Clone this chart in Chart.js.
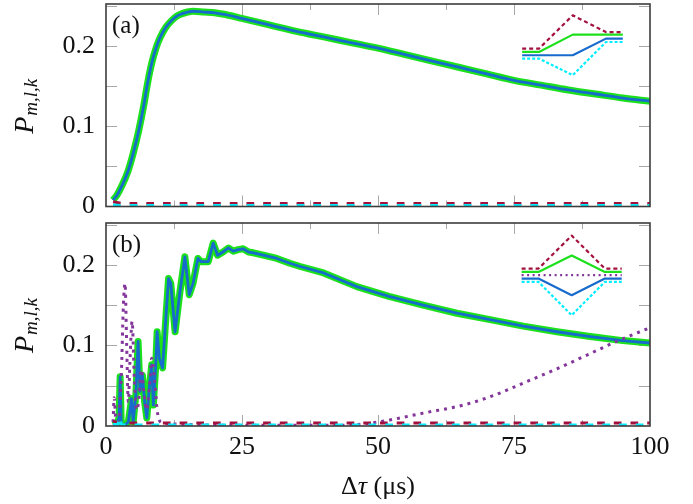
<!DOCTYPE html>
<html>
<head>
<meta charset="utf-8">
<script src="https://cdn.jsdelivr.net/npm/chart.js@4.4.1/dist/chart.umd.min.js"></script>
<style>
  html, body { margin: 0; padding: 0; background: #fff; }
  #wrap { position: relative; width: 693px; height: 504px; }
  canvas { position: absolute; left: 0; }
</style>
</head>
<body>
<div id="wrap">
  <canvas id="chartA" width="693" height="215" style="top:0"></canvas>
  <canvas id="chartB" width="693" height="289" style="top:215px"></canvas>
</div>
<script>
// --- axis ticks ---
const xMajorTicks = [0, 25, 50, 75, 100];
const xMinorTicks = [12.5, 37.5, 62.5, 87.5];
const yTicks = [0, 0.05, 0.1, 0.15, 0.2, 0.25];
const yLabelled = [0, 0.1, 0.2];
const yLabelText = ['0', '0.1', '0.2'];

// --- panel (a) ---
const tauA = [1.3, 2, 3, 4, 5, 6, 7, 7.5, 8, 8.5, 9, 9.5, 10, 11, 12, 13, 14, 15, 16, 18, 20, 22.5, 25, 30, 35, 40, 45, 50, 55, 60, 65, 70, 75, 80, 85, 90, 95, 100];
const pA = [0.008, 0.014, 0.027, 0.043, 0.066, 0.094, 0.128, 0.148, 0.166, 0.181, 0.193, 0.203, 0.211, 0.223, 0.231, 0.237, 0.240, 0.242, 0.243, 0.242, 0.241, 0.238, 0.234, 0.226, 0.218, 0.211, 0.204, 0.197, 0.189, 0.181, 0.173, 0.165, 0.157, 0.151, 0.145, 0.140, 0.135, 0.131];
const tauLowA = [1.3, 3, 100];
const redA = [0.006, 0.0037, 0.0037];
const cyanA = [0.002, 0.0012, 0.0012];

// inset (a)
const insRedTauA = [76.5, 79.6, 85.8, 91.9, 95.0];
const insRedA = [0.1965, 0.1965, 0.2379, 0.2171, 0.2171];
const insGreenTauA = [76.5, 79.6, 85.8, 95.0];
const insGreenA = [0.1923, 0.1923, 0.2139, 0.2139];
const insBlueTauA = [76.5, 85.8, 91.9, 95.0];
const insBlueA = [0.1882, 0.1882, 0.2089, 0.2089];
const insCyanTauA = [76.5, 79.6, 85.8, 91.9, 95.0];
const insCyanA = [0.1841, 0.1841, 0.1634, 0.2047, 0.2047];

// --- panel (b) ---
const tauB = [1.3, 2.0, 2.4, 2.6, 2.8, 3.2, 3.6, 4.1, 4.7, 5.0, 5.5, 5.9, 6.25, 6.7, 7.1, 7.5, 8.0, 8.4, 8.7, 9.1, 9.4, 9.8, 10.4, 11.0, 11.5, 11.9, 12.7, 13.6, 14.5, 15.3, 16.0, 16.9, 17.5, 18.8, 19.7, 20.5, 21.5, 22.5, 23.4, 24.3, 25.2, 26.2, 27.1, 28.9, 31.4, 33.8, 35.7, 40, 46.1, 52, 58.3, 64.5, 70.6, 76.7, 82.9, 89, 95, 100];
const pB = [0.001, 0.003, 0.01, 0.061, 0.002, 0.001, 0.002, 0.005, 0.034, 0.005, 0.04, 0.105, 0.043, 0.063, 0.03, 0.01, 0.05, 0.076, 0.026, 0.07, 0.117, 0.084, 0.072, 0.134, 0.183, 0.177, 0.117, 0.167, 0.21, 0.163, 0.177, 0.208, 0.204, 0.204, 0.227, 0.212, 0.216, 0.221, 0.217, 0.219, 0.220, 0.216, 0.215, 0.212, 0.208, 0.202, 0.198, 0.19, 0.173, 0.161, 0.150, 0.140, 0.132, 0.124, 0.117, 0.111, 0.106, 0.103];
const tauPurpleB = [1.3, 1.5, 1.8, 2.3, 2.8, 3.2, 3.5, 3.8, 4.1, 4.4, 4.8, 5.2, 5.6, 6.0, 6.5, 7.0, 7.5, 8.0, 8.4, 8.9, 9.4, 10, 11, 15, 20, 30, 40, 43, 48, 52.2, 58.3, 65.7, 71.5, 77.3, 82.9, 88.4, 94.2, 100];
const purpleB = [0.005, 0.035, 0.01, 0.005, 0.06, 0.15, 0.177, 0.1, 0.03, 0.08, 0.13, 0.06, 0.02, 0.03, 0.07, 0.04, 0.02, 0.05, 0.084, 0.06, 0.02, 0.005, 0.003, 0.002, 0.001, 0.001, 0.001, 0.001, 0.003, 0.0075, 0.016, 0.026, 0.0385, 0.055, 0.071, 0.088, 0.106, 0.122];
const tauLowB = [1.3, 2.2, 2.5, 2.8, 3.2, 100];
const redB = [0.006, 0.004, 0.004, 0.004, 0.0037, 0.0037];
const cyanB = [0.002, 0.002, 0.011, 0.002, 0.0012, 0.0012];

// inset (b)
const insTauB = [76.4, 79.5, 85.6, 91.7, 94.8];
const insRedB = [0.1954, 0.1954, 0.2364, 0.1954, 0.1954];
const insGreenB = [0.1913, 0.1913, 0.2116, 0.1913, 0.1913];
const insPurpleB = [0.1872, 0.1872, 0.1872, 0.1872, 0.1872];
const insBlueB = [0.183, 0.183, 0.1624, 0.183, 0.183];
const insCyanB = [0.1789, 0.1789, 0.1375, 0.1789, 0.1789];

const GREEN = '#1de01d';
const BLUE = '#176bcc';
const RED = '#a3123f';
const CYAN = '#00eeff';
const PURPLE = '#83379a';
const SERIF = '"Liberation Serif", "DejaVu Serif", serif';

const pts = (xs, ys) => xs.map((x, i) => ({ x: x, y: ys[i] }));

function line(xs, ys, color, width, dash, smooth) {
    return {
        data: pts(xs, ys),
        borderColor: color,
        borderWidth: width,
        borderDash: dash || [],
        borderCapStyle: 'butt',
        borderJoinStyle: 'round',
        pointRadius: 0,
        fill: false,
        cubicInterpolationMode: smooth ? 'monotone' : 'default',
        tension: 0
    };
}

// inward ticks, box frame, panel tag and axis labels
const decoPlugin = {
    id: 'deco',
    beforeDatasetsDraw(chart) {
        const { ctx, chartArea: a, scales: { x, y } } = chart;
        ctx.save();
        ctx.strokeStyle = '#a8a8a8';
        ctx.lineWidth = 1;
        ctx.beginPath();
        xMajorTicks.concat(xMinorTicks).forEach(v => {
            if (v <= 0 || v >= 100) return;
            const px = Math.round(x.getPixelForValue(v)) + 0.5;
            const len = xMajorTicks.includes(v) ? 11 : 6;
            ctx.moveTo(px, a.bottom); ctx.lineTo(px, a.bottom - len);
            ctx.moveTo(px, a.top); ctx.lineTo(px, a.top + len);
        });
        yTicks.forEach(v => {
            if (v <= 0) return;
            const py = Math.round(y.getPixelForValue(v)) + 0.5;
            ctx.moveTo(a.left, py); ctx.lineTo(a.left + 11, py);
            ctx.moveTo(a.right, py); ctx.lineTo(a.right - 11, py);
        });
        ctx.stroke();
        ctx.restore();
    },
    afterDraw(chart, args, opts) {
        const { ctx, chartArea: a } = chart;
        ctx.save();
        ctx.strokeStyle = '#3c3c3c';
        ctx.lineWidth = 1.6;
        ctx.strokeRect(a.left, a.top, a.right - a.left, a.bottom - a.top);

        ctx.fillStyle = '#111';
        ctx.textBaseline = 'alphabetic';
        ctx.font = '25px ' + SERIF;
        ctx.fillText(opts.tag, a.left + 6, a.top + 29);

        // y label P_{m,l,k}
        const cy = (a.top + a.bottom) / 2 + 1;
        ctx.translate(33, cy);
        ctx.rotate(-Math.PI / 2);
        ctx.font = 'italic 28px ' + SERIF;
        const wP = ctx.measureText('P').width;
        ctx.font = 'italic 19px ' + SERIF;
        const wS = ctx.measureText('m,l,k').width;
        const x0 = -(wP + wS + 1) / 2;
        ctx.font = 'italic 28px ' + SERIF;
        ctx.fillText('P', x0, 0);
        ctx.font = 'italic 19px ' + SERIF;
        ctx.fillText('m,l,k', x0 + wP + 1, 4);
        ctx.restore();

        if (opts.xTitle) {
            ctx.save();
            ctx.fillStyle = '#111';
            const parts = [['Δ', '26px '], ['τ', 'italic 26px '], [' (μs)', '26px ']];
            let total = 0;
            parts.forEach(p => { ctx.font = p[1] + SERIF; total += ctx.measureText(p[0]).width; });
            let cx = (a.left + a.right) / 2 - total / 2;
            const by = a.bottom + 68;
            parts.forEach(p => {
                ctx.font = p[1] + SERIF;
                ctx.fillText(p[0], cx, by);
                cx += ctx.measureText(p[0]).width;
            });
            ctx.restore();
        }
    }
};

function noPad(s) {
    s.paddingTop = 0; s.paddingBottom = 0; s.paddingLeft = 0; s.paddingRight = 0;
}

function yScale() {
    return {
        type: 'linear',
        min: 0,
        max: 0.252,
        afterBuildTicks: s => { s.ticks = yTicks.map(v => ({ value: v })); },
        afterFit: s => { s.width = 106; noPad(s); },
        ticks: {
            autoSkip: false,
            padding: 11,
            color: '#111',
            font: { family: SERIF, size: 26 },
            callback: v => {
                const i = yLabelled.findIndex(t => Math.abs(t - v) < 1e-9);
                return i >= 0 ? yLabelText[i] : '';
            }
        },
        grid: { display: false, drawTicks: false },
        border: { display: false }
    };
}

function baseOptions(xScale, tag, xTitle) {
    return {
        responsive: false,
        animation: false,
        devicePixelRatio: 1,
        layout: { padding: { top: tag === '(a)' ? 4 : 8, right: 43, left: 0, bottom: 0 } },
        plugins: {
            legend: { display: false },
            tooltip: { enabled: false },
            deco: { tag: tag, xTitle: xTitle }
        },
        scales: { x: xScale, y: yScale() }
    };
}

new Chart(document.getElementById('chartA'), {
    type: 'line',
    data: {
        datasets: [
            line(insRedTauA, insRedA, RED, 2.2, [4, 3]),
            line(insGreenTauA, insGreenA, GREEN, 2.2),
            line(insBlueTauA, insBlueA, BLUE, 2.2),
            line(insCyanTauA, insCyanA, CYAN, 2.2, [3, 2]),
            line(tauLowA, cyanA, CYAN, 3, [7.7, 9]),
            line(tauLowA, redA, RED, 3, [7.7, 9]),
            line(tauA, pA, BLUE, 2.8, null, true),
            line(tauA, pA, GREEN, 7, null, true)
        ]
    },
    options: baseOptions({
        type: 'linear', min: 0, max: 100,
        ticks: { display: false },
        grid: { display: false, drawTicks: false },
        border: { display: false },
        afterFit: s => { s.height = 8.5; noPad(s); }
    }, '(a)', false),
    plugins: [decoPlugin]
});

new Chart(document.getElementById('chartB'), {
    type: 'line',
    data: {
        datasets: [
            line(insTauB, insRedB, RED, 2.2, [4, 3]),
            line(insTauB, insGreenB, GREEN, 2.2),
            line(insTauB, insPurpleB, PURPLE, 2.2, [2, 3.5]),
            line(insTauB, insBlueB, BLUE, 2.2),
            line(insTauB, insCyanB, CYAN, 2.2, [3, 2]),
            line(tauLowB, cyanB, CYAN, 3, [7.7, 9]),
            line(tauLowB, redB, RED, 3, [7.7, 9]),
            line(tauPurpleB, purpleB, PURPLE, 3, [3, 5], true),
            line(tauB, pB, BLUE, 2.8),
            line(tauB, pB, GREEN, 7)
        ]
    },
    options: baseOptions({
        type: 'linear', min: 0, max: 100,
        afterBuildTicks: s => { s.ticks = xMajorTicks.map(v => ({ value: v })); },
        afterFit: s => { s.height = 78; noPad(s); },
        ticks: {
            autoSkip: false, maxRotation: 0, padding: 6,
            color: '#111',
            font: { family: SERIF, size: 26 }
        },
        grid: { display: false, drawTicks: false },
        border: { display: false }
    }, '(b)', true),
    plugins: [decoPlugin]
});
</script>
</body>
</html>
